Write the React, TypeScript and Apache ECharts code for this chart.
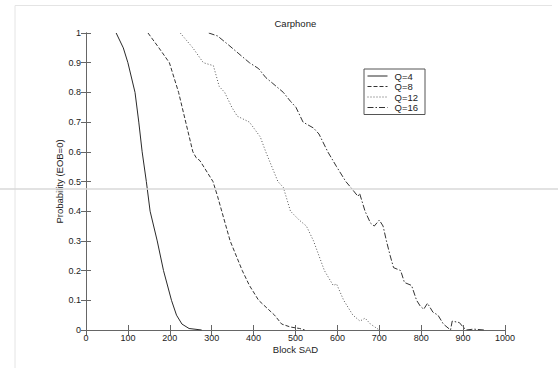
import React, { useEffect, useRef } from "react";
import * as echarts from "echarts";

const titleText = "Carphone";
const xName = "Block SAD";
const yName = "Probability (EOB=0)";
const seriesNames = ["Q=4", "Q=8", "Q=12", "Q=16"];

const q4X = [72, 89, 100, 117, 126, 134, 144, 153, 170, 185, 204, 216, 229, 246, 276];
const q4Y = [1, 0.95, 0.9, 0.8, 0.7, 0.6, 0.5, 0.4, 0.3, 0.2, 0.1, 0.05, 0.02, 0.005, 0];

const q8X = [148, 174, 199, 221, 238, 255, 263, 272, 303, 314, 324, 344, 373, 390, 412, 450, 467, 488, 510, 522];
const q8Y = [1, 0.95, 0.9, 0.8, 0.7, 0.6, 0.58, 0.57, 0.5, 0.45, 0.4, 0.3, 0.2, 0.15, 0.1, 0.05, 0.02, 0.01, 0.005, 0];

const q12X = [225, 255, 280, 304, 318, 331, 348, 361, 390, 416, 429, 458, 471, 488, 509, 526, 543, 556, 569, 590, 598, 615, 637, 654, 666, 679, 700];
const q12Y = [1, 0.95, 0.9, 0.89, 0.82, 0.8, 0.75, 0.72, 0.7, 0.65, 0.6, 0.5, 0.48, 0.4, 0.37, 0.35, 0.3, 0.25, 0.2, 0.15, 0.155, 0.1, 0.05, 0.03, 0.04, 0.02, 0];

const q16X = [293, 314, 340, 365, 390, 412, 429, 446, 471, 488, 501, 518, 543, 556, 577, 598, 620, 632, 649, 653, 666, 679, 688, 700, 709, 717, 726, 734, 751, 760, 777, 789, 798, 806, 815, 828, 840, 853, 870, 874, 891, 900, 908, 925, 950];
const q16Y = [1, 0.99, 0.96, 0.93, 0.9, 0.88, 0.85, 0.83, 0.8, 0.77, 0.75, 0.7, 0.68, 0.66, 0.6, 0.55, 0.5, 0.48, 0.45, 0.46, 0.4, 0.36, 0.35, 0.37, 0.35, 0.3, 0.25, 0.21, 0.2, 0.16, 0.15, 0.1, 0.08, 0.07, 0.09, 0.06, 0.05, 0.02, 0, 0.03, 0.025, 0.01, 0, 0.003, 0];

const xs = [q4X, q8X, q12X, q16X];
const ys = [q4Y, q8Y, q12Y, q16Y];
const dashTypes: any[] = ["solid", [4, 2], [1, 2], [6, 2, 1.5, 2]];
const lineColors = ["#2a2a2a", "#333333", "#555555", "#333333"];

const FONT = "'Liberation Sans', Arial, sans-serif";
const AXIS_COLOR = "#666666";
const TEXT_COLOR = "#222222";

export default function App() {
  const ref = useRef<HTMLDivElement>(null);
  useEffect(() => {
    if (!ref.current) return;
    const chart = echarts.init(ref.current, undefined, { renderer: "svg" });
    const axisCommon = {
      axisLine: { show: true, lineStyle: { color: AXIS_COLOR, width: 1 } },
      axisTick: { show: true, inside: true, length: 5, lineStyle: { color: AXIS_COLOR } },
      splitLine: { show: false },
    };
    const option: any = {
      animation: false,
      backgroundColor: "#ffffff",
      textStyle: { fontFamily: FONT },
      title: {
        text: titleText,
        left: 274.5,
        top: 18,
        padding: 0,
        textStyle: { fontSize: 9.5, fontWeight: "normal", color: TEXT_COLOR, fontFamily: FONT },
      },
      grid: { left: 86, top: 33, width: 419, height: 297 },
      legend: {
        data: seriesNames,
        orient: "vertical",
        left: 364,
        top: 69,
        padding: [2, 7, 2, 3],
        itemWidth: 20,
        itemHeight: 9.5,
        itemGap: 0.5,
        borderColor: "#555555",
        borderWidth: 1,
        itemStyle: { color: "rgba(0,0,0,0)", borderWidth: 0, opacity: 0 },
        lineStyle: { width: 1 },
        textStyle: { fontSize: 9.5, color: TEXT_COLOR, fontFamily: FONT, padding: [0, 0, 0, 2] },
      },
      xAxis: [
        {
          type: "value",
          position: "bottom",
          min: 0,
          max: 1000,
          interval: 100,
          name: xName,
          nameLocation: "middle",
          nameGap: 14,
          nameMoveOverlap: false,
          nameTextStyle: { fontSize: 9.5, color: TEXT_COLOR, fontFamily: FONT },
          axisLabel: {
            fontSize: 9,
            color: TEXT_COLOR,
            margin: 3,
            fontFamily: FONT,
            formatter: (v: number) => String(v),
          },
          ...axisCommon,
        },
        {
          type: "value",
          position: "top",
          min: 0,
          max: 1000,
          interval: 100,
          axisLabel: { show: false },
          ...axisCommon,
        },
      ],
      yAxis: [
        {
          type: "value",
          position: "left",
          min: 0,
          max: 1,
          interval: 0.1,
          name: yName,
          nameLocation: "middle",
          nameGap: 22,
          nameMoveOverlap: false,
          nameTextStyle: { fontSize: 9.5, color: TEXT_COLOR, fontFamily: FONT },
          axisLabel: {
            fontSize: 9,
            color: TEXT_COLOR,
            margin: 5,
            fontFamily: FONT,
            formatter: (v: number) => String(Math.round(v * 10) / 10),
          },
          ...axisCommon,
        },
        {
          type: "value",
          position: "right",
          min: 0,
          max: 1,
          interval: 0.1,
          axisLabel: { show: false },
          ...axisCommon,
        },
      ],
      series: seriesNames.map((name, i) => ({
        name,
        type: "line",
        xAxisIndex: 0,
        yAxisIndex: 0,
        symbol: "none",
        showSymbol: false,
        data: xs[i].map((x, j) => [x, ys[i][j]]),
        lineStyle: { color: lineColors[i], width: 1, type: dashTypes[i] },
        itemStyle: { color: lineColors[i] },
      })),
      graphic: [
        {
          type: "polyline",
          shape: { points: [[15, 368], [15, 5.5], [552, 5.5]] },
          style: { stroke: "#e4e4e4", lineWidth: 1, fill: "none" },
          silent: true,
          z: 100,
        },
        {
          type: "line",
          shape: { x1: 0, y1: 189, x2: 558, y2: 189 },
          style: { stroke: "#d9d9d9", lineWidth: 1.5 },
          silent: true,
          z: 100,
        },
      ],
    };
    chart.setOption(option);
    return () => chart.dispose();
  }, []);
  return (
    <div
      ref={ref}
      style={{ position: "absolute", left: 0, top: 0, width: 558, height: 368, background: "#fff" }}
    />
  );
}
